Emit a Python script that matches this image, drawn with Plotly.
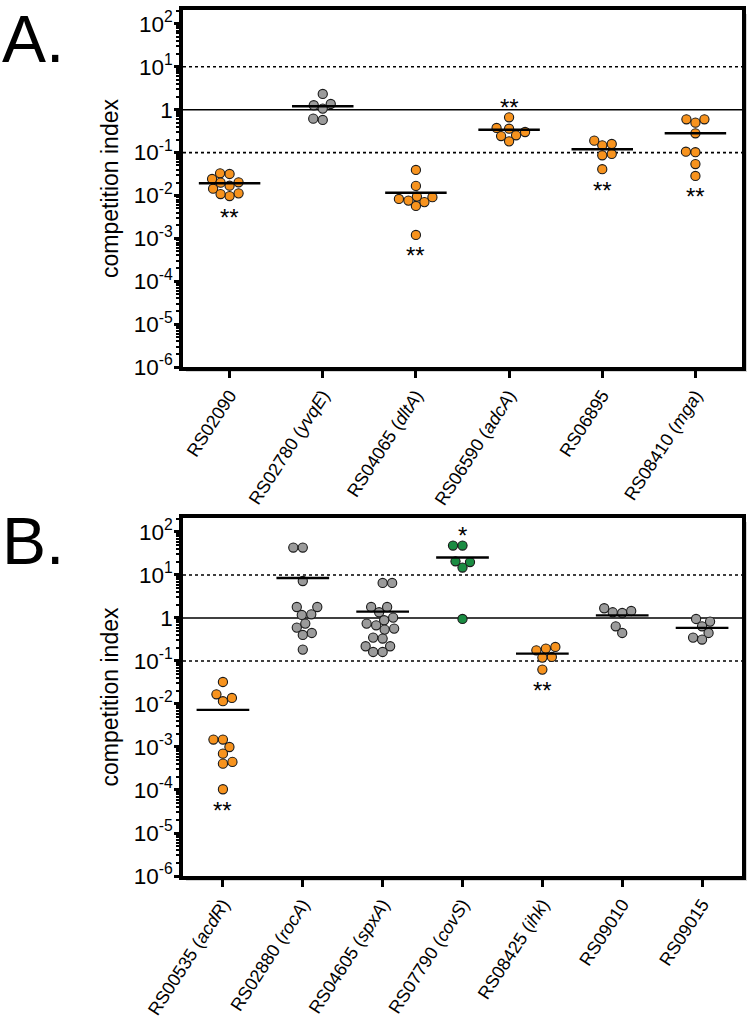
import numpy as np
import plotly.graph_objects as go

# ---------------- data ----------------
labels_a = ["RS02090", "RS02780 (<i>yvqE</i>)", "RS04065 (<i>dltA</i>)",
            "RS06590 (<i>adcA</i>)", "RS06895", "RS08410 (<i>mga</i>)"]
rs02090 = [0.0317, 0.0243, 0.0329, 0.0203, 0.0169, 0.0144, 0.0199, 0.0112, 0.0097, 0.0108]
rs02780 = [2.33, 1.06, 1.36, 1.27, 0.577, 0.619]
rs04065 = [0.0394, 0.0167, 0.0094, 0.0083, 0.0070, 0.0057, 0.0076, 0.0091, 0.0012]
rs06590 = [0.665, 0.361, 0.253, 0.183, 0.243, 0.302, 0.375]
rs06895 = [0.159, 0.093, 0.148, 0.0865, 0.190, 0.041]
rs08410 = [0.597, 0.499, 0.597, 0.282, 0.105, 0.102, 0.054, 0.0285]
groups_a = [rs02090, rs02780, rs04065, rs06590, rs06895, rs08410]
colors_a = ["orange", "gray", "orange", "orange", "orange", "orange"]
sig_a = ["**", "", "**", "**", "**", "**"]
sigpos_a = ["below", "", "below", "above", "below", "below"]

labels_b = ["RS00535 (<i>acdR</i>)", "RS02880 (<i>rocA</i>)", "RS04605 (<i>spxA</i>)",
            "RS07790 (<i>covS</i>)", "RS08425 (<i>ihk</i>)", "RS09010", "RS09015"]
rs00535 = [0.0325, 0.0138, 0.0116, 0.0168, 0.00149, 0.0010, 0.00149, 0.00070, 0.00045, 0.00041, 0.000104]
rs02880 = [43.4, 43.4, 7.24, 1.80, 1.80, 1.175, 1.219, 0.597, 0.741, 0.448, 0.403, 0.184]
rs04605 = [6.52, 6.52, 1.80, 1.36, 1.80, 0.885, 1.02, 0.676, 0.537, 0.566, 0.741,
           0.332, 0.350, 0.220, 0.220, 0.162, 0.162]
rs07790 = [48.3, 48.3, 20.0, 14.9, 20.8, 0.95]
rs08425 = [0.194, 0.124, 0.177, 0.120, 0.212, 0.063]
rs09010 = [1.683, 1.306, 1.358, 1.455, 0.448, 0.641]
rs09015 = [0.948, 0.824, 0.641, 0.448, 0.315, 0.350]
groups_b = [rs00535, rs02880, rs04605, rs07790, rs08425, rs09010, rs09015]
colors_b = ["orange", "gray", "gray", "green", "orange", "gray", "gray"]
sig_b = ["**", "", "", "*", "**", "", ""]
sigpos_b = ["below", "", "", "above", "below", "", ""]

ref_solid = [1]
ref_dotted = [10, 0.1]
ytick_vals = [1e2, 1e1, 1, 1e-1, 1e-2, 1e-3, 1e-4, 1e-5, 1e-6]
ytick_text = ["10<sup>2</sup>", "10<sup>1</sup>", "1", "10<sup>-1</sup>", "10<sup>-2</sup>",
              "10<sup>-3</sup>", "10<sup>-4</sup>", "10<sup>-5</sup>", "10<sup>-6</sup>"]

# ---------------- style / layout ----------------
W, H = 752, 1018
FONT = "Liberation Sans, Arial, Helvetica, sans-serif"
PALETTE = {"orange": "#F7931E", "gray": "#9B9B9B", "green": "#1A8C42"}
X0, X1 = 183, 742
PANELS = {"a": (10, 367), "b": (518, 876)}
YR = [-6, 2.325]
DIAM = 9.2

def swarm(vals, ppd, ppc):
    ys = np.log10(np.array(vals, float)) * ppd
    order = np.argsort(ys)
    placed = []
    offs = np.zeros(len(vals))
    cands = np.arange(-45, 45.01, 0.5)
    for k, i in enumerate(order):
        sgn = 1 if k % 2 else -1
        for c in sorted(cands, key=lambda c: (abs(c), sgn * c)):
            if all((c - px) ** 2 + (ys[i] - py) ** 2 >= DIAM ** 2 for px, py in placed):
                placed.append((c, ys[i]))
                offs[i] = c / ppc
                break
    return offs

fig = go.Figure()

def add_panel(groups, colors, labels, sig, sigpos, xa, ya, key):
    top, bot = PANELS[key]
    n = len(groups)
    ppd = (bot - top) / (YR[1] - YR[0])
    ppc = (X1 - X0) / n
    xr = [-0.5, n - 0.5]
    for v, ls in [(ref_dotted, "dot"), (ref_solid, "solid")]:
        for r in v:
            fig.add_trace(go.Scatter(x=xr, y=[r, r], mode="lines", xaxis=xa, yaxis=ya,
                                     line=dict(color="black", width=1.6, dash=ls),
                                     hoverinfo="skip", showlegend=False))
    for i, (vals, c) in enumerate(zip(groups, colors)):
        offs = swarm(vals, ppd, ppc)
        fig.add_trace(go.Scatter(x=i + offs, y=vals, mode="markers", xaxis=xa, yaxis=ya,
                                 marker=dict(size=DIAM, color=PALETTE[c],
                                             line=dict(color="#1a1a1a", width=1.1)),
                                 showlegend=False))
    for i, vals in enumerate(groups):
        m = float(np.mean(vals))
        fig.add_trace(go.Scatter(x=[i - 0.33, i + 0.33], y=[m, m], mode="lines",
                                 xaxis=xa, yaxis=ya, line=dict(color="black", width=2.4),
                                 hoverinfo="skip", showlegend=False))
    for i, vals in enumerate(groups):
        if not sig[i]:
            continue
        if sigpos[i] == "below":
            yv, sh = min(vals), -21
        else:
            yv, sh = max(vals), 10
        fig.add_annotation(x=i, y=np.log10(yv), xref=xa, yref=ya, text=sig[i],
                           showarrow=False, yshift=sh, font=dict(size=24, color="black", family=FONT))
    dom_y = [1 - bot / H, 1 - top / H]
    minor_vals = [k * 10.0 ** e for e in range(-6, 3) for k in range(2, 10) if k * 10.0 ** e < 10 ** YR[1]]
    axx = dict(domain=[X0 / W, X1 / W], range=xr, tickmode="array", tickvals=list(range(n)),
               ticktext=labels, tickangle=-57, ticks="outside", ticklen=7, tickwidth=3,
               tickcolor="black", showline=True, linewidth=3.5, linecolor="black", mirror=True,
               showgrid=False, zeroline=False, anchor=ya, automargin=False,
               tickfont=dict(size=18, family=FONT, color="black"))
    axy = dict(domain=dom_y, type="log", range=YR, tickmode="array", tickvals=ytick_vals,
               ticktext=ytick_text, ticks="outside", ticklen=5, tickwidth=3, tickcolor="black",
               showline=True, linewidth=3.5, linecolor="black", mirror=True, showgrid=False,
               zeroline=False, anchor=xa, automargin=False, ticklabelstandoff=-3,
               tickfont=dict(size=22.5, family=FONT, color="black"),
               title=dict(text="competition index", font=dict(size=23, family=FONT, color="black"),
                          standoff=10),
               minor=dict(tickmode="array", tickvals=minor_vals, ticks="outside", ticklen=3,
                          tickwidth=1.5, tickcolor="black", showgrid=False))
    return axx, axy

ax1, ay1 = add_panel(groups_a, colors_a, labels_a, sig_a, sigpos_a, "x", "y", "a")
ax2, ay2 = add_panel(groups_b, colors_b, labels_b, sig_b, sigpos_b, "x2", "y2", "b")

shapes = []
for key in ["a", "b"]:
    top, bot = PANELS[key]
    # soft drop shadow along right and bottom edges of the frame
    shapes.append(dict(type="rect", xref="paper", yref="paper", layer="below",
                       x0=(X1 + 2) / W, x1=(X1 + 5) / W, y0=1 - (bot + 5) / H, y1=1 - (top + 4) / H,
                       fillcolor="#d4d4d4", line=dict(width=0)))
    shapes.append(dict(type="rect", xref="paper", yref="paper", layer="below",
                       x0=(X0 + 3) / W, x1=(X1 + 5) / W, y0=1 - (bot + 5) / H, y1=1 - (bot + 2) / H,
                       fillcolor="#d4d4d4", line=dict(width=0)))

fig.update_layout(
    width=W, height=H, margin=dict(l=0, r=0, t=0, b=0, autoexpand=False),
    paper_bgcolor="white", plot_bgcolor="white",
    xaxis=ax1, yaxis=ay1, xaxis2=ax2, yaxis2=ay2, shapes=shapes,
    font=dict(family=FONT, color="black"),
)
fig.add_annotation(text="A.", xref="paper", yref="paper", x=0.0, y=1.0, xanchor="left",
                   yanchor="top", showarrow=False, yshift=0, xshift=0,
                   font=dict(size=66, family=FONT, color="black"))
fig.add_annotation(text="B.", xref="paper", yref="paper", x=0.0, y=1 - 518 / H, xanchor="left",
                   yanchor="top", showarrow=False, yshift=16, xshift=0,
                   font=dict(size=66, family=FONT, color="black"))

fig.write_html("out.html", config={"displayModeBar": False},
               post_script="document.body.style.margin='0';")
